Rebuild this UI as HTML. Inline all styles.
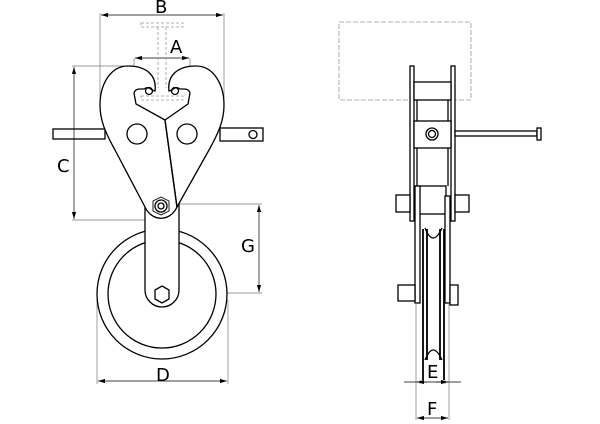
<!DOCTYPE html>
<html><head><meta charset="utf-8"><style>html,body{margin:0;padding:0;background:#fff}svg{display:block}text{font-family:"DejaVu Sans","Liberation Sans",sans-serif;font-size:18px;fill:#000}</style></head><body>
<svg width="600" height="424" viewBox="0 0 600 424" xmlns="http://www.w3.org/2000/svg">
<defs><marker id="a" viewBox="0 0 10 6" refX="10" refY="3" markerWidth="10" markerHeight="6" orient="auto-start-reverse"><path d="M0,0L10,3L0,6z" fill="#000"/></marker></defs>
<g fill="none" stroke="#000" stroke-width="1.3">
<g stroke="#777" stroke-width="0.7">
<line x1="100" y1="13" x2="100" y2="100"/><line x1="224" y1="13" x2="224" y2="100"/>
<line x1="134" y1="58" x2="134" y2="90"/><line x1="190" y1="58" x2="190" y2="90"/>
<line x1="72" y1="66" x2="125" y2="66"/><line x1="72" y1="220" x2="150" y2="220"/>
<line x1="175" y1="204" x2="262" y2="204"/><line x1="162" y1="293" x2="262" y2="293"/>
<line x1="97" y1="300" x2="97" y2="384"/><line x1="228" y1="300" x2="228" y2="384"/>
</g>
<g stroke="#000" stroke-width="0.7">
<line x1="101" y1="15" x2="223" y2="15" marker-start="url(#a)" marker-end="url(#a)"/>
<line x1="135" y1="58" x2="189" y2="58" marker-start="url(#a)" marker-end="url(#a)"/>
<line x1="74" y1="67" x2="74" y2="219" marker-start="url(#a)" marker-end="url(#a)"/>
<line x1="259" y1="205" x2="259" y2="292" marker-start="url(#a)" marker-end="url(#a)"/>
<line x1="98" y1="381" x2="227" y2="381" marker-start="url(#a)" marker-end="url(#a)"/>
</g>
<g stroke="#999" stroke-width="0.8" stroke-dasharray="3,2">
<rect x="141" y="23" width="42" height="4"/><path d="M158,27V88M166,27V88"/><rect x="141" y="96" width="42" height="4"/>
</g>
<rect x="53" y="129" width="52" height="10"/>
<rect x="220" y="128" width="43" height="13"/><circle cx="253" cy="134.5" r="4"/>
<circle cx="162" cy="294" r="65" fill="#fff"/>
<circle cx="162" cy="294" r="54"/>
<path d="M145,200V290A17,17 0 0 0 179,290V200" fill="#fff"/>
<polygon points="162,286 169,290 169,299 162,303 155,299 155,290" fill="#fff"/>
<path d="M165,120L136,104L134,93Q135,89 140,89L144,89Q148,86 152,90L155,91C157,75 146,66 128,66C110,66 100,85 100,105C100,120 105,132 115,150L145,207C152,222 170,222 177,207Z" fill="#fff"/>
<path d="M165,120L188,104L190,93Q189,89 184,89L180,89Q176,86 172,90L169,91C167,75 178,66 196,66C214,66 224,85 224,105C224,120 219,132 209,150L177,207Z" fill="#fff"/>
<path d="M165,120L177,207"/>
<circle cx="137" cy="134" r="10"/><circle cx="187" cy="134" r="10"/>
<circle cx="149" cy="91" r="3.5"/><circle cx="175" cy="91" r="3.5"/>
<circle cx="161" cy="206" r="6"/><circle cx="161" cy="206" r="3"/>
<polygon points="161,197 169,201 169,211 161,215 153,211 153,201" stroke-width="0.9"/>
<rect x="339" y="22" width="132" height="78" stroke="#999" stroke-width="0.8" stroke-dasharray="5,2"/>
<rect x="410" y="66" width="4" height="155" fill="#fff"/><rect x="451" y="66" width="4" height="155" fill="#fff"/>
<rect x="414" y="82" width="37" height="18" fill="#fff"/>
<rect x="414" y="121" width="37" height="27" fill="#fff"/>
<circle cx="432" cy="134" r="6"/><circle cx="432" cy="134" r="3.5"/>
<path d="M417,100V121M448,100V121M417,148V186M448,148V186"/>
<rect x="455" y="131" width="82" height="5" fill="#fff"/><rect x="537" y="128" width="4" height="12" fill="#fff"/>
<rect x="416" y="186" width="30" height="28" fill="#fff"/>
<rect x="415" y="186" width="5" height="117" fill="#fff"/><rect x="445" y="196" width="5" height="107" fill="#fff"/>
<path d="M423,229V380M427,229V360M440,229V360M444,229V380" stroke-width="1.8"/>
<path d="M425,228Q433,248 442,228M425,360Q433,340 442,360"/>
<rect x="396" y="195" width="14" height="17" fill="#fff"/><rect x="455" y="195" width="14" height="17" fill="#fff"/>
<rect x="398" y="285" width="17" height="16" fill="#fff"/><rect x="450" y="285" width="8" height="20" fill="#fff"/>
<g stroke="#777" stroke-width="0.7"><path d="M416,303V420M449,303V420M420,380V384M445,380V384"/></g>
<g stroke="#000" stroke-width="0.7">
<line x1="404" y1="382" x2="461" y2="382"/>
<line x1="417" y1="382" x2="427" y2="382" marker-start="url(#a)"/>
<line x1="436" y1="382" x2="448" y2="382" marker-end="url(#a)"/>
<line x1="417" y1="418" x2="448" y2="418" marker-start="url(#a)" marker-end="url(#a)"/>
</g>
</g>
<text x="155" y="13">B</text><text x="170" y="53">A</text><text x="57" y="172">C</text>
<text x="241" y="252">G</text><text x="156" y="381">D</text>
<text x="427" y="378">E</text><text x="427" y="415">F</text>
</svg>
</body></html>
